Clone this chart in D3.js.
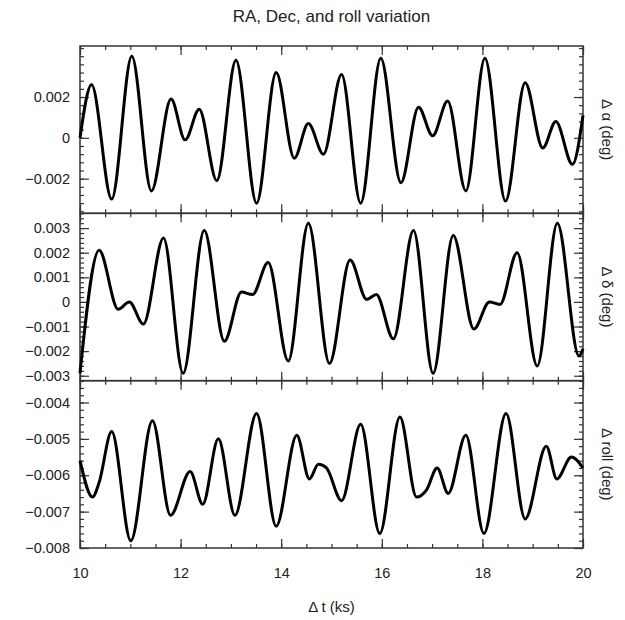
<!DOCTYPE html>
<html>
<head>
<meta charset="utf-8">
<script src="https://cdn.jsdelivr.net/npm/d3@7"></script>
<style>
  body { margin: 0; background: #fff; }
  text { font-family: "Liberation Sans", Arial, sans-serif; fill: #222; }
</style>
</head>
<body>
<div id="chart"></div>
<script>
// time (ks) and values (deg), extrema plus a few shoulders
const raTimes = [10.0, 10.23, 10.63, 11.03, 11.42, 11.81, 12.09, 12.37, 12.72, 13.10, 13.51, 13.90, 14.26, 14.54, 14.84, 15.20, 15.58, 15.98, 16.38, 16.73, 17.01, 17.31, 17.67, 18.05, 18.46, 18.85, 19.20, 19.46, 19.79, 20.0];
const raValues = [0.0000, 0.0026, -0.0030, 0.0040, -0.0026, 0.0019, -0.0001, 0.0014, -0.0021, 0.0038, -0.0032, 0.0032, -0.0010, 0.0007, -0.0008, 0.0031, -0.0032, 0.0039, -0.0022, 0.0015, 0.0001, 0.0018, -0.0026, 0.0039, -0.0031, 0.0027, -0.0005, 0.0008, -0.0013, 0.0011];

const decTimes = [10.0, 10.38, 10.76, 10.98, 11.26, 11.66, 12.05, 12.47, 12.87, 13.21, 13.43, 13.74, 14.14, 14.54, 14.96, 15.37, 15.70, 15.89, 16.23, 16.63, 17.02, 17.42, 17.83, 18.14, 18.35, 18.69, 19.09, 19.49, 19.92, 20.0];
const decValues = [-0.0029, 0.0021, -0.0003, 0.0000, -0.0009, 0.0026, -0.0029, 0.0029, -0.0016, 0.0004, 0.0003, 0.0016, -0.0024, 0.0032, -0.0025, 0.0017, 0.0001, 0.0003, -0.0015, 0.0029, -0.0029, 0.0027, -0.0011, 0.0000, -0.0001, 0.0020, -0.0026, 0.0032, -0.0022, -0.0019];

const rollTimes = [10.0, 10.25, 10.38, 10.63, 11.01, 11.44, 11.80, 12.19, 12.44, 12.75, 13.08, 13.51, 13.90, 14.31, 14.56, 14.74, 14.90, 15.20, 15.58, 15.96, 16.36, 16.69, 16.89, 17.10, 17.32, 17.67, 18.03, 18.47, 18.85, 19.27, 19.48, 19.77, 20.0];
const rollValues = [-0.0056, -0.0066, -0.0062, -0.0048, -0.0078, -0.0045, -0.0071, -0.0059, -0.0068, -0.0050, -0.0071, -0.0043, -0.0074, -0.0049, -0.0061, -0.0057, -0.0058, -0.0067, -0.0046, -0.0076, -0.0044, -0.0066, -0.0064, -0.0058, -0.0065, -0.0049, -0.0076, -0.0043, -0.0072, -0.0052, -0.0061, -0.0055, -0.0058];

const xTickValues = [10, 12, 14, 16, 18, 20];
const raTickValues = [-0.002, 0, 0.002];
const decTickValues = [-0.003, -0.002, -0.001, 0, 0.001, 0.002, 0.003];
const rollTickValues = [-0.008, -0.007, -0.006, -0.005, -0.004];

const panelTitles = ["\u0394 \u03b1 (deg)", "\u0394 \u03b4 (deg)", "\u0394 roll (deg)"];
const chartTitle = "RA, Dec, and roll variation";
const xTitle = "\u0394 t (ks)";

const width = 625, height = 620;
const plotLeft = 80, plotRight = 583, plotTop = 46, plotBottom = 548;
const panelH = (plotBottom - plotTop) / 3;

const panels = [
  { t: raTimes, v: raValues, domain: [-0.0037, 0.0045], ticks: raTickValues, minor: 0.0004 },
  { t: decTimes, v: decValues, domain: [-0.0032, 0.0036], ticks: decTickValues, minor: 0.0002 },
  { t: rollTimes, v: rollValues, domain: [-0.008, -0.0034], ticks: rollTickValues, minor: 0.0002 }
];

const fmt = (d) => (d === 0 ? "0" : d3.format(".3f")(d).replace("-", "\u2212"));

const svg = d3.select("#chart").append("svg")
  .attr("width", width).attr("height", height);

const x = d3.scaleLinear().domain([10, 20]).range([plotLeft, plotRight]);
const xMinor = d3.range(10, 20.001, 0.5);

svg.append("text")
  .attr("x", (plotLeft + plotRight) / 2).attr("y", 22)
  .attr("text-anchor", "middle").style("font-size", "17px")
  .text(chartTitle);

panels.forEach((p, i) => {
  const y0 = plotTop + i * panelH;
  const y = d3.scaleLinear().domain(p.domain).range([y0 + panelH, y0]);
  const g = svg.append("g");

  // minor ticks on both sides
  const yMinor = d3.range(Math.ceil(p.domain[0] / p.minor - 1e-6), Math.floor(p.domain[1] / p.minor + 1e-6) + 1)
    .map((k) => k * p.minor);

  g.append("g").attr("transform", `translate(${plotLeft},0)`)
    .call(d3.axisLeft(y).tickValues(yMinor).tickSize(-4).tickFormat(""));
  g.append("g").attr("transform", `translate(${plotRight},0)`)
    .call(d3.axisRight(y).tickValues(yMinor).tickSize(-4).tickFormat(""));

  g.append("g").attr("transform", `translate(${plotLeft},0)`)
    .call(d3.axisLeft(y).tickValues(p.ticks).tickSize(-9).tickPadding(10).tickFormat(fmt));
  g.append("g").attr("transform", `translate(${plotRight},0)`)
    .call(d3.axisRight(y).tickValues(p.ticks).tickSize(-9).tickFormat(""));

  g.append("g").attr("transform", `translate(0,${y0})`)
    .call(d3.axisTop(x).tickValues(xMinor).tickSize(-4).tickFormat(""));
  g.append("g").attr("transform", `translate(0,${y0 + panelH})`)
    .call(d3.axisBottom(x).tickValues(xMinor).tickSize(-4).tickFormat(""));
  g.append("g").attr("transform", `translate(0,${y0})`)
    .call(d3.axisTop(x).tickValues(xTickValues).tickSize(-9).tickFormat(""));
  g.append("g").attr("transform", `translate(0,${y0 + panelH})`)
    .call(d3.axisBottom(x).tickValues(xTickValues).tickSize(-9).tickPadding(20)
      .tickFormat(i === 2 ? d3.format("d") : ""));

  g.selectAll(".domain").remove();
  g.selectAll(".tick line").attr("stroke", "#333").attr("stroke-width", 1.2);
  g.selectAll(".tick text").style("font-size", "14.5px").attr("fill", "#222");

  g.append("rect")
    .attr("x", plotLeft).attr("y", y0).attr("width", plotRight - plotLeft).attr("height", panelH)
    .attr("fill", "none").attr("stroke", "#333").attr("stroke-width", 1.5);

  const line = d3.line()
    .x((d, k) => x(p.t[k]))
    .y((d) => y(d))
    .curve(d3.curveMonotoneX);

  g.append("path")
    .attr("d", line(p.v))
    .attr("fill", "none").attr("stroke", "#000")
    .attr("stroke-width", 3).attr("stroke-linejoin", "round");

  g.append("text")
    .attr("transform", `translate(602,${y0 + panelH / 2}) rotate(90)`)
    .attr("text-anchor", "middle").style("font-size", "15px")
    .text(panelTitles[i]);
});

svg.append("text")
  .attr("x", (plotLeft + plotRight) / 2).attr("y", 612)
  .attr("text-anchor", "middle").style("font-size", "15px")
  .text(xTitle);
</script>
</body>
</html>
